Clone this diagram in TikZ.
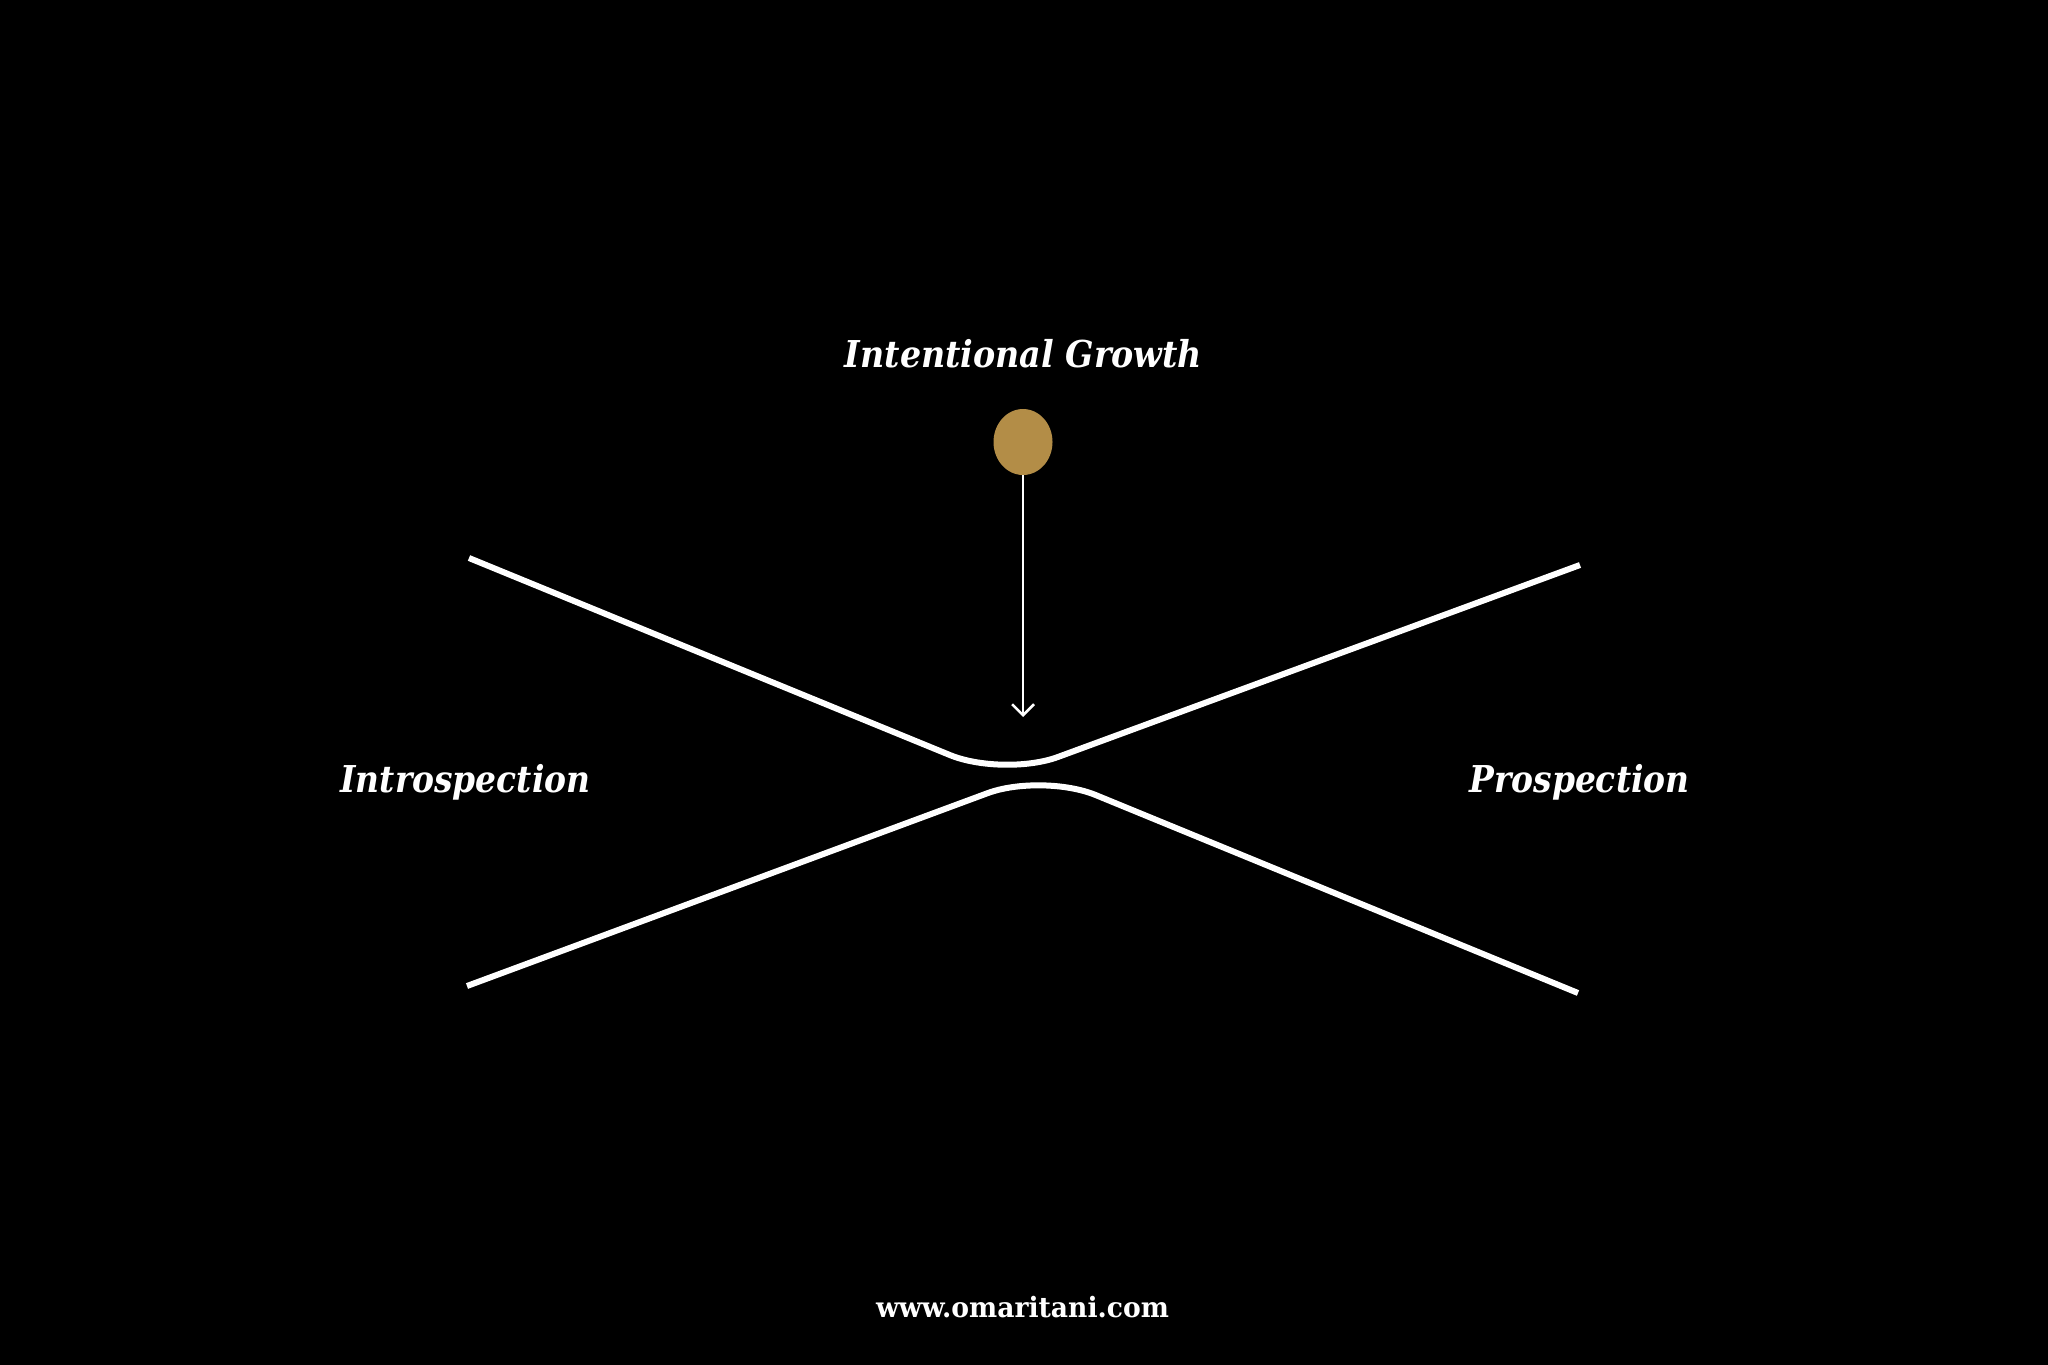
\documentclass[tikz,border=0pt]{standalone}
\usepackage{fontspec}
\setmainfont{DejaVu Serif}
\usetikzlibrary{arrows.meta,shapes.geometric}
\definecolor{gold}{RGB}{179,141,71}
\newcommand{\narrow}[1]{\scalebox{0.89}[1]{#1}}
\tikzset{
  label/.style={text=white,anchor=base,inner sep=0pt,font=\fontsize{37}{40}\selectfont\bfseries\itshape},
  curve/.style={draw=white,line width=6pt,rounded corners=58pt},
  dotnode/.style={ellipse,fill=gold,minimum width=59pt,minimum height=66pt,inner sep=0pt},
}
\begin{document}
\begin{tikzpicture}[x=1pt,y=-1pt]
\fill[black] (0,0) rectangle (2048,1365);
\useasboundingbox (0,0) rectangle (2048,1365);
\node[label] (ig) at (1023.5,367) {\scalebox{0.9}[1]{Intentional Growth}};
\node[label] (intro) at (465.5,792) {\narrow{Introspection}};
\node[label] (pro) at (1579.5,792) {\narrow{Prospection}};
\node[text=white,anchor=base,inner sep=0pt,font=\fontsize{28}{30}\selectfont\bfseries] (web) at (1022.5,1317) {\scalebox{0.95}[1]{www.omaritani.com}};
\node[dotnode] (dot) at (1023,442) {};
\coordinate (tip) at (1023,717);
\draw[white,line width=2.5pt,-{Straight Barb[length=11pt,width=22pt]}] (dot.south) -- (tip);
\coordinate (ul) at (469,558);
\coordinate (uv) at (1003.5,777);
\coordinate (ur) at (1580,565);
\coordinate (ll) at (467,986);
\coordinate (lv) at (1042,773);
\coordinate (lr) at (1578,993);
\draw[curve] (ul) -- (uv) -- (ur);
\draw[curve] (ll) -- (lv) -- (lr);
\end{tikzpicture}
\end{document}
